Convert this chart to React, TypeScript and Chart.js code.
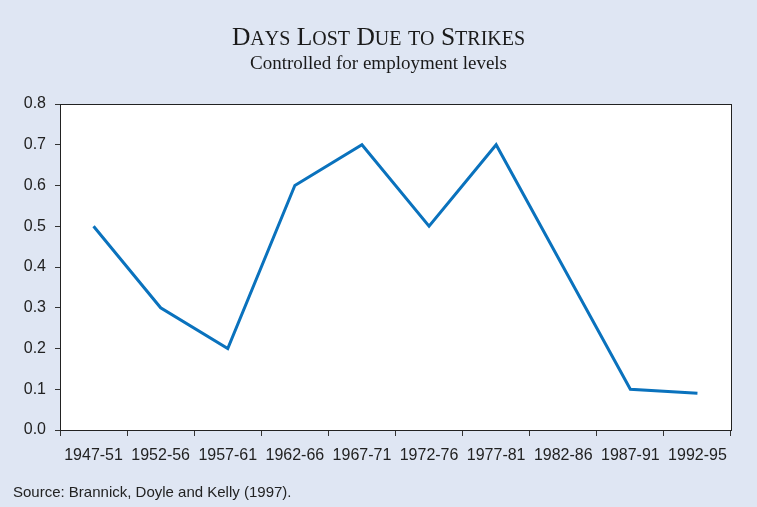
import React, { useEffect, useRef } from "react";
import { Chart, registerables } from "chart.js";

Chart.register(...registerables);

const categories = ["1947-51", "1952-56", "1957-61", "1962-66", "1967-71", "1972-76", "1977-81", "1982-86", "1987-91", "1992-95"];
const daysLost = [0.5, 0.3, 0.2, 0.6, 0.7, 0.5, 0.7, 0.4, 0.1, 0.09];
const titleText = "Days Lost Due to Strikes";
const subtitleText = "Controlled for employment levels";
const sourceText = "Source: Brannick, Doyle and Kelly (1997).";

const BG = "#dfe6f3";
const LINE = "#0a72bd";
const SERIF = "'Liberation Serif', 'Times New Roman', serif";
const SANS = "'Liberation Sans', Arial, sans-serif";

const decorPlugin = {
  id: "decor",
  beforeDraw(chart: any) {
    const { ctx, width, height, chartArea } = chart;
    ctx.save();
    ctx.fillStyle = BG;
    ctx.fillRect(0, 0, width, height);
    ctx.fillStyle = "#ffffff";
    ctx.fillRect(chartArea.left, chartArea.top, chartArea.right - chartArea.left, chartArea.bottom - chartArea.top);

    // Title in small caps
    const big = 25.5;
    const small = 20;
    const segs: { t: string; s: number }[] = [];
    for (const ch of titleText) {
      const isUpper = ch !== ch.toLowerCase();
      const s = ch === " " ? big : isUpper ? big : small;
      segs.push({ t: ch.toUpperCase(), s });
    }
    let total = 0;
    for (const sg of segs) {
      ctx.font = `${sg.s}px ${SERIF}`;
      total += ctx.measureText(sg.t).width;
    }
    let x = width / 2 - total / 2;
    ctx.fillStyle = "#1a1a1a";
    ctx.textBaseline = "alphabetic";
    ctx.textAlign = "left";
    for (const sg of segs) {
      ctx.font = `${sg.s}px ${SERIF}`;
      ctx.fillText(sg.t, x, 45);
      x += ctx.measureText(sg.t).width;
    }

    ctx.font = `19px ${SERIF}`;
    ctx.textAlign = "center";
    ctx.fillText(subtitleText, width / 2, 69);

    ctx.font = `15px ${SANS}`;
    ctx.textAlign = "left";
    ctx.fillStyle = "#222222";
    ctx.fillText(sourceText, 13, 497);
    ctx.restore();
  },
  afterDraw(chart: any) {
    const { ctx, chartArea } = chart;
    ctx.save();
    ctx.strokeStyle = "#222222";
    ctx.lineWidth = 1;
    ctx.strokeRect(Math.round(chartArea.left) + 0.5, Math.round(chartArea.top) + 0.5, Math.round(chartArea.right - chartArea.left), Math.round(chartArea.bottom - chartArea.top));
    ctx.restore();
  },
};

export default function App() {
  const ref = useRef<HTMLCanvasElement>(null);
  useEffect(() => {
    document.body.style.margin = "0";
    const chart = new Chart(ref.current!, {
      type: "line",
      data: {
        labels: categories,
        datasets: [
          {
            data: daysLost,
            borderColor: LINE,
            backgroundColor: LINE,
            borderWidth: 3,
            pointRadius: 0,
            tension: 0,
            fill: false,
          },
        ],
      },
      options: {
        animation: false,
        responsive: false,
        devicePixelRatio: 1,
        layout: { padding: { top: 104, right: 26, bottom: 37, left: 0 } },
        plugins: { legend: { display: false }, title: { display: false }, tooltip: { enabled: false } },
        scales: {
          x: {
            type: "category",
            offset: true,
            grid: { offset: true, drawOnChartArea: false, color: "#333333", tickLength: 6, tickWidth: 1 },
            border: { display: false },
            ticks: { color: "#222222", font: { family: SANS, size: 16 }, padding: 10, maxRotation: 0, autoSkip: false },
            afterFit(scale: any) {
              scale.height = 40;
            },
          },
          y: {
            min: 0,
            max: 0.8,
            grid: { drawOnChartArea: false, color: "#333333", tickLength: 5, tickWidth: 1 },
            border: { display: false },
            ticks: {
              stepSize: 0.1,
              color: "#222222",
              font: { family: SANS, size: 16 },
              padding: 9,
              callback: (v: any) => Number(v).toFixed(1),
            },
            afterFit(scale: any) {
              scale.width = 60;
            },
          },
        },
      },
      plugins: [decorPlugin],
    });
    return () => chart.destroy();
  }, []);
  return <canvas ref={ref} width={757} height={507} style={{ display: "block", width: 757, height: 507 }} />;
}
